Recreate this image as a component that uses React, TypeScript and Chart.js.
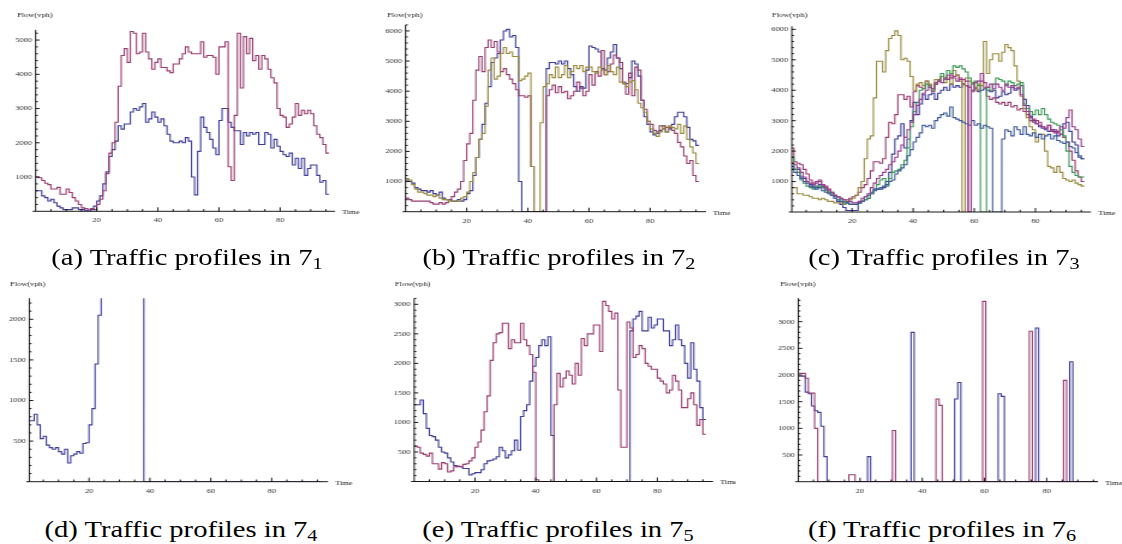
import React, { useEffect, useRef } from 'react';
import { Chart, registerables } from 'chart.js';

Chart.register(...registerables);

const STRETCH = 1.2;
const FONT = '"Liberation Serif", "Times New Roman", serif';

const BLUE = '#3d3d99';
const MAGENTA = '#993d71';
const GOLD = '#998b3d';
const GREEN = '#3d9956';
const STEEL = '#3d5a99';
const PURPLE = '#993d8f';

const X_TICKS = [20, 40, 60, 80];
const A_Y_TICKS = [1000, 2000, 3000, 4000, 5000];
const B_Y_TICKS = [1000, 2000, 3000, 4000, 5000, 6000];
const C_Y_TICKS = [1000, 2000, 3000, 4000, 5000, 6000];
const D_Y_TICKS = [500, 1000, 1500, 2000];
const E_Y_TICKS = [500, 1000, 1500, 2000, 2500, 3000];
const F_Y_TICKS = [500, 1000, 1500, 2000, 2500, 3000];

// (a)
const A_BLUE = [600,600,450,400,300,350,250,150,100,50, 50,50,100,100,50,50,30,10,50,150, 300,450,800,1150,1600,1800,2050,2500,2400,2550, 2550,2900,3000,2950,3050,3150,2600,2700,2900,2750, 2600,2700,2500,2250,2050,2000,2000,2050,2000,2150, 2050,1000,480,1750,2750,2450,2300,2100,1850,1650, 2650,3000,3000,2600,2450,2350,2350,1950,2300,2200, 2300,2250,2300,1950,1950,2300,2250,1850,2100,1900, 1750,1650,1600,1700,1350,1550,1250,1550,1050,1250, 1350,1350,1050,850,900,500];
const A_MAGENTA = [1000,980,900,820,780,650,650,700,500,500, 650,550,400,300,200,100,80,60,80,50, 200,350,600,1100,1700,2000,2600,3650,4550,4750, 4350,5250,5200,4600,4650,5200,4650,4450,4150,4350, 4450,4200,4200,4100,4050,4300,4300,4450,4600,4800, 4650,4600,4600,4600,4950,4500,4550,4550,4500,4000, 4800,4800,4950,1300,900,2800,5200,3600,5100,4600, 5050,4400,4550,4150,4550,4450,4150,3900,3750,3000, 2800,2750,2450,2550,2750,3150,2800,2950,2850,2950, 2850,2500,2250,2150,1950,1700];

// (b)
const B_BLUE = [1050,1000,950,800,750,700,700,650,700,600, 550,650,450,400,400,350,350,400,350,400, 600,700,1200,1800,2400,2900,3600,4150,4950,5100, 5250,5700,6000,6050,5800,5850,5450,1000,0,0, 0,0,0,0,0,0,4750,4950,4950,4900, 5000,4900,5000,4750,4550,4150,4000,4150,4100,4700, 5500,5450,5400,5300,4750,4700,5100,5300,5550,5100, 4750,4250,4250,4450,5000,4900,4500,3700,3150,2900, 2650,2550,2600,2700,2850,2650,2750,2900,3150,3300, 3300,3150,2800,2400,2350,2200];
const B_MAGENTA = [450,400,350,350,350,350,350,350,300,250, 250,300,250,300,400,500,650,750,1000,1700, 2250,2600,3700,4700,5150,4650,5450,5700,5450,5650, 5300,4650,4750,4550,4400,4250,4050,3850,3850,3800, 3850,1500,0,0,0,0,3850,4050,4200,3950, 4150,3950,4000,3750,3850,4000,4300,4100,3850,4000, 4550,4200,4650,4500,5350,4550,4650,4900,5200,5100, 4950,4300,3900,4600,3850,4800,4700,3700,3400,3000, 2900,2700,2650,2850,2750,2800,2800,2700,2600,2300, 2150,1850,1600,1700,1200,1000];
const B_GOLD = [1100,1050,900,750,650,650,600,550,550,500, 550,450,400,400,350,350,350,350,450,500, 650,1000,1300,1800,2400,2600,3500,4700,5100,4400, 4500,5250,5450,5250,5300,5150,5150,4350,4400,4500, 4600,1500,0,0,2950,4150,4250,4550,4450,4800, 4450,4550,4850,4450,4650,4850,4750,4850,4650,4800, 4800,4650,4600,4800,4700,4550,4850,4650,4550,4800, 4300,4250,4150,4300,4350,4050,3600,3450,3300,3000, 2750,2600,2500,2650,2850,2650,2850,2800,2750,2900, 2600,2850,2400,2150,1950,1600];

// (c)
const C_BLUE = [1400,1400,1400,1150,1100,1000,900,850,800,900, 850,750,650,550,450,350,250,150,50,50, 50,50,300,350,400,450,600,700,750,750, 800,1000,1300,1900,2400,2500,2900,2100,2400,3000, 3600,3200,3550,3850,3700,3850,3900,3700,3900,4000, 4100,4000,4200,4100,4150,4100,4200,4150,4100,4000, 4050,3950,4000,4050,4000,3950,4000,3750,3800,3950, 3850,3900,4100,4000,4050,4150,3700,3500,3150,3000, 2900,2800,2750,2700,2650,2700,2650,2500,2550,2900, 2950,2650,2300,2200,1800,1750];
const C_MAGENTA = [2100,1650,1600,1550,1400,1250,1050,950,1000,1050, 900,850,750,650,550,500,450,400,350,450, 500,550,650,800,900,1100,1350,1650,1650,1600, 1750,2450,2950,2900,3200,3850,3850,3700,3800,3450, 3950,4150,4100,4050,4300,4150,3950,4250,4350,4450, 4350,4500,4400,4450,4500,4350,4200,4150,0,4250, 4100,4000,4300,4100,3800,3700,3750,3600,3550,3600, 3500,3600,3450,3500,3350,3400,3300,3200,3000,2950, 3000,2850,2800,2750,2850,2650,2700,2600,2550,2450, 2300,2000,1700,1350,1150,1000];
const C_GOLD = [800,800,600,600,550,550,500,450,450,400, 450,400,350,350,300,300,300,250,300,400, 450,550,800,1000,1750,2400,2500,3750,4950,4950, 4600,5300,5700,5800,5950,5800,5000,5050,4950,4450, 4000,4200,4250,4150,4300,4200,4050,4350,4300,4450, 4250,4400,4200,4650,4500,4300,0,4400,4300,4250, 4000,4200,4150,5600,4550,5000,5200,5200,4950,5250, 5500,5400,5300,4800,4300,3800,3400,3100,2800,2700, 2300,2550,2550,2000,1500,1450,1300,1500,1300,1100, 1050,1000,1050,950,900,850];
const C_GREEN = [1800,1400,1300,1050,950,850,800,750,850,850, 800,700,650,600,550,500,400,350,300,250, 250,250,300,350,400,450,600,750,900,1050, 1100,850,1100,1300,1350,1400,1550,1700,2100,2800, 3300,3600,4000,4050,4200,4100,4000,4200,4300,4550, 4350,4650,4550,4800,4750,4800,4700,4600,4400,4200, 4300,4150,0,0,4100,4000,4200,4400,4350,4300, 4150,4300,4250,4150,4200,4250,3550,3400,3300,3200, 3350,3200,3400,3200,3050,2950,2900,2850,2700,2500, 2000,1500,1300,1200,1150,1150];
const C_STEEL = [1500,1300,1200,1100,1000,950,850,800,750,800, 700,650,600,550,500,400,350,300,300,250, 250,250,300,350,500,550,650,750,750,800, 850,900,1000,1050,1250,1350,1450,1550,1850,2050, 2300,2450,2600,2850,2800,2850,2750,3000,3100,3200, 3250,3150,3450,3100,3050,3000,2950,2900,2850,3000, 2850,2900,2750,2850,2800,2750,0,0,0,2400, 2700,2650,2500,2800,2700,2550,2800,2550,2500,2600, 2450,2550,2400,2500,2550,2400,2500,2350,2300,2250, 2300,2150,2100,1950,1850,1750];
const C_PURPLE = [1600,1550,1450,1300,1150,1000,950,900,950,1000, 900,800,700,650,550,500,450,400,400,350, 300,300,350,450,500,600,800,950,1100,1200, 1300,1400,1550,1650,1800,2000,2200,2450,2700,2950, 3200,3500,3700,3900,4000,4100,4050,4200,4300,4250, 4400,4350,4500,4400,4300,4400,4350,4300,0,3950, 4250,4300,4550,4250,4100,4200,4050,4200,4100,4000, 4200,4100,4150,4050,4100,3850,3500,3300,3100,3050, 2900,2950,2800,2750,2850,2700,2600,2650,2800,2750, 3100,3350,2800,2700,2400,2150];

// (d) values above 2260 run off the top of the plot
const D_BLUE = [750,750,830,700,530,560,450,420,400,420, 370,340,400,230,320,340,370,350,470,480, 700,900,1450,2050,2600,2600,2600,2600,2600,2600, 2600,2600,2600,2600,2600,2600,2600,2600,0,0, 0,0,0,0,0,0,0,0,0,0, 0,0,0,0,0,0,0,0,0,0, 0,0,0,0,0,0,0,0,0,0, 0,0,0,0,0,0,0,0,0,0, 0,0,0,0,0,0,0,0,0,0, 0,0,0,0,0,0];

// (e)
const E_BLUE = [1300,1300,1380,1150,900,780,760,700,580,500, 480,400,330,270,250,250,220,220,110,130, 150,150,200,300,350,360,380,420,580,520, 400,450,520,700,530,1100,1200,1300,1700,1950, 2100,2300,2400,2300,2450,780,0,0,0,0, 0,0,0,0,0,0,0,0,0,0, 0,0,0,0,0,0,0,0,0,0, 0,2550,2750,2800,2880,2550,2550,2780,2600,2650, 2750,2750,2550,2550,2300,2400,2650,2400,2300,2000, 1750,2350,1900,1700,1250,1050];
const E_MAGENTA = [600,580,480,460,430,480,300,300,210,320, 300,160,180,250,260,250,290,300,350,400, 580,670,870,1180,1450,2050,2350,2500,2520,2680, 2680,2250,2400,2350,2350,2680,2400,2300,2150,1850, 30,0,0,0,0,0,1300,1830,1600,1750, 1870,1800,1650,2000,1800,2420,2300,2500,2500,2650, 2650,2200,3050,2980,2880,2750,2850,1550,580,580, 2700,2600,2100,2150,2300,2250,2000,1950,1900,1900, 1750,1700,1650,1500,1550,1800,1700,1550,1250,1250, 1400,1500,1300,950,1050,800];

// (f)
const F_BLUE = [1980,1980,1680,1650,1420,1330,1300,1040,470,0, 0,0,0,0,0,0,0,0,0,0, 0,0,470,0,0,0,0,0,0,0, 0,0,0,0,0,0,2800,0,0,0, 0,0,0,0,0,0,0,0,0,0, 1550,1860,0,0,0,0,0,0,0,0, 0,0,0,0,1650,1600,0,0,0,0, 0,0,0,0,0,0,2880,0,0,0, 0,0,0,0,0,0,0,2250,0,0, 0,0,0,0,0,0];
const F_MAGENTA = [2030,2030,1940,1660,1660,1000,0,0,0,0, 0,0,0,0,0,0,130,130,0,0, 0,0,0,0,0,0,0,0,0,0, 960,0,0,0,0,0,0,0,0,0, 0,0,0,0,1550,1430,0,0,0,0, 0,0,0,0,0,0,0,0,0,3380, 0,0,0,0,0,0,0,0,0,0, 0,0,0,0,2820,0,0,0,0,0, 0,0,0,0,0,1900,0,0,0,0, 0,0,0,0,0,0];

type Series = { values: number[]; color: string };
type PanelSpec = {
  key: string; sub: string;
  L: number; T: number; IW: number; H: number;
  xmin: number; xmax: number; ymax: number;
  cl: number; cr: number; ct: number; cb: number;
  offset: number; yTicks: number[]; yMajor: number; yMinor: number;
  flowX: number; flowY: number; timeX: number;
  capX: number; capY: number;
  series: Series[];
};

const PANELS: PanelSpec[] = [
  { key: 'a', sub: '1', L: 0, T: 0, IW: 305, H: 230, xmin: 0, xmax: 98, ymax: 5300,
    cl: 35.6, cr: 335.1, ct: 29.8, cb: 211.3, offset: 0, yTicks: A_Y_TICKS, yMajor: 1000, yMinor: 200,
    flowX: 17, flowY: 15, timeX: 342, capX: 187, capY: 243.6,
    series: [{ values: A_BLUE, color: BLUE }, { values: A_MAGENTA, color: MAGENTA }] },
  { key: 'b', sub: '2', L: 370, T: 0, IW: 305, H: 230, xmin: 0, xmax: 98.3, ymax: 6200,
    cl: 405.6, cr: 706, ct: 24.9, cb: 211.7, offset: 0, yTicks: B_Y_TICKS, yMajor: 1000, yMinor: 200,
    flowX: 387, flowY: 15, timeX: 713, capX: 559, capY: 243.6,
    series: [{ values: B_BLUE, color: BLUE }, { values: B_MAGENTA, color: MAGENTA }, { values: B_GOLD, color: GOLD }] },
  { key: 'c', sub: '3', L: 745, T: 0, IW: 314, H: 230, xmin: 0.3, xmax: 98.2, ymax: 6100,
    cl: 791.8, cr: 1091, ct: 26.3, cb: 212, offset: 0, yTicks: C_Y_TICKS, yMajor: 1000, yMinor: 200,
    flowX: 772, flowY: 15, timeX: 1098, capX: 944, capY: 243.6,
    series: [{ values: C_BLUE, color: BLUE }, { values: C_MAGENTA, color: MAGENTA }, { values: C_GOLD, color: GOLD },
             { values: C_GREEN, color: GREEN }, { values: C_STEEL, color: STEEL }, { values: C_PURPLE, color: PURPLE }] },
  { key: 'd', sub: '4', L: 0, T: 270, IW: 305, H: 228, xmin: 0.4, xmax: 98.5, ymax: 2260,
    cl: 29.3, cr: 328, ct: 298.2, cb: 481.7, offset: 0, yTicks: D_Y_TICKS, yMajor: 500, yMinor: 100,
    flowX: 10, flowY: 284, timeX: 335, capX: 181, capY: 515.6,
    series: [{ values: D_BLUE, color: BLUE }] },
  { key: 'e', sub: '5', L: 370, T: 270, IW: 305, H: 228, xmin: 0, xmax: 98.3, ymax: 3100,
    cl: 414.2, cr: 712.9, ct: 298.4, cb: 481.5, offset: 0, yTicks: E_Y_TICKS, yMajor: 500, yMinor: 100,
    flowX: 395, flowY: 284, timeX: 720, capX: 558, capY: 515.6,
    series: [{ values: E_BLUE, color: BLUE }, { values: E_MAGENTA, color: MAGENTA }] },
  { key: 'f', sub: '6', L: 745, T: 270, IW: 314, H: 228, xmin: 0.15, xmax: 96.5, ymax: 3440,
    cl: 798.3, cr: 1098, ct: 298.2, cb: 481.7, offset: 0.4, yTicks: F_Y_TICKS, yMajor: 500, yMinor: 100,
    flowX: 780, flowY: 284, timeX: 1105, capX: 942, capY: 515.6,
    series: [{ values: F_BLUE, color: BLUE }, { values: F_MAGENTA, color: MAGENTA }] },
];

const mathAxes = {
  id: 'mathAxes',
  afterDatasetsDraw(chart: any, _args: any, opts: any) {
    const { ctx, chartArea: a } = chart;
    const xs = chart.scales.x;
    const ys = chart.scales.y;
    const sx = 1 / STRETCH;
    ctx.save();
    ctx.strokeStyle = '#000';
    ctx.lineWidth = 0.9;
    ctx.beginPath();
    ctx.moveTo(a.left - 3 * sx, a.bottom);
    ctx.lineTo(a.right, a.bottom);
    ctx.moveTo(a.left, a.bottom);
    ctx.lineTo(a.left, a.top);
    for (let v = 5; v <= xs.max; v += 5) {
      if (v <= xs.min) continue;
      const px = xs.getPixelForValue(v);
      const len = v % 20 === 0 ? 4 : 2.2;
      ctx.moveTo(px, a.bottom);
      ctx.lineTo(px, a.bottom - len);
    }
    for (let v = opts.yMinor; v <= ys.max + 1e-6; v += opts.yMinor) {
      const py = ys.getPixelForValue(v);
      const major = Math.abs(v % opts.yMajor) < 1e-6;
      ctx.moveTo(a.left, py);
      ctx.lineTo(a.left + (major ? 4 : 2.2) * sx, py);
    }
    ctx.stroke();
    ctx.fillStyle = '#222';
    ctx.font = `7px ${FONT}`;
    ctx.textBaseline = 'middle';
    ctx.textAlign = 'left';
    ctx.fillText('Flow(vph)', opts.flowX, opts.flowY);
    ctx.fillText('Time', opts.timeX, a.bottom + 1);
    ctx.restore();
  },
};

function Panel({ p }: { p: PanelSpec }) {
  const ref = useRef<HTMLCanvasElement>(null);
  useEffect(() => {
    const canvas = ref.current;
    if (!canvas) return;
    const S = STRETCH;
    const clI = (p.cl - p.L) / S;
    const crI = (p.cr - p.L) / S;
    const ctI = p.ct - p.T;
    const cbI = p.cb - p.T;
    const n = p.series.length;
    const chart = new Chart(canvas, {
      type: 'line',
      data: {
        datasets: p.series.map((s, i) => ({
          data: [
            ...s.values.map((v, k) => ({ x: k + p.offset, y: v })),
            { x: s.values.length + p.offset, y: s.values[s.values.length - 1] },
          ],
          borderColor: s.color,
          backgroundColor: s.color,
          borderWidth: 1.1,
          pointRadius: 0,
          stepped: true,
          fill: false,
          order: n - i,
        })),
      },
      options: {
        responsive: false,
        animation: false,
        devicePixelRatio: 1,
        layout: { padding: { left: 0, top: ctI, right: p.IW - crI, bottom: 0 } },
        plugins: {
          legend: { display: false },
          tooltip: { enabled: false },
          mathAxes: {
            yMajor: p.yMajor, yMinor: p.yMinor,
            flowX: (p.flowX - p.L) / S, flowY: p.flowY - p.T,
            timeX: (p.timeX - p.L) / S,
          },
        } as any,
        scales: {
          x: {
            type: 'linear', min: p.xmin, max: p.xmax,
            grid: { display: false, drawTicks: false },
            border: { display: false },
            ticks: {
              font: { family: FONT, size: 7 }, color: '#333', padding: 5,
              autoSkip: false, maxRotation: 0, minRotation: 0,
              callback: (v: any) => String(v),
            },
            afterBuildTicks: (sc: any) => { sc.ticks = X_TICKS.map((v) => ({ value: v })); },
            afterFit: (sc: any) => { sc.height = p.H - cbI; },
          },
          y: {
            type: 'linear', min: 0, max: p.ymax,
            grid: { display: false, drawTicks: false },
            border: { display: false },
            ticks: {
              font: { family: FONT, size: 7 }, color: '#333', padding: 3,
              autoSkip: false,
              callback: (v: any) => String(v),
            },
            afterBuildTicks: (sc: any) => { sc.ticks = p.yTicks.map((v) => ({ value: v })); },
            afterFit: (sc: any) => { sc.width = clI; },
          },
        } as any,
      },
      plugins: [mathAxes],
    });
    return () => chart.destroy();
  }, [p]);
  return (
    <div style={{ position: 'absolute', left: p.L, top: p.T, width: p.IW, height: p.H,
      transform: `scaleX(${STRETCH})`, transformOrigin: '0 0' }}>
      <canvas ref={ref} width={p.IW} height={p.H} style={{ display: 'block', width: p.IW, height: p.H }} />
    </div>
  );
}

function Caption({ p }: { p: PanelSpec }) {
  return (
    <div style={{ position: 'absolute', left: p.capX, top: p.capY, transform: 'translateX(-50%) scaleX(1.19)',
      fontFamily: FONT, fontSize: 24, lineHeight: '26px', whiteSpace: 'nowrap', color: '#000' }}>
      ({p.key}) Traffic profiles in 7<span style={{ fontSize: 17, position: 'relative', top: 4 }}>{p.sub}</span>
    </div>
  );
}

export default function App() {
  return (
    <div style={{ position: 'absolute', left: 0, top: 0, width: 1122, height: 544, overflow: 'hidden', background: '#fff' }}>
      {PANELS.map((p) => <Panel key={p.key} p={p} />)}
      {PANELS.map((p) => <Caption key={'c' + p.key} p={p} />)}
    </div>
  );
}
